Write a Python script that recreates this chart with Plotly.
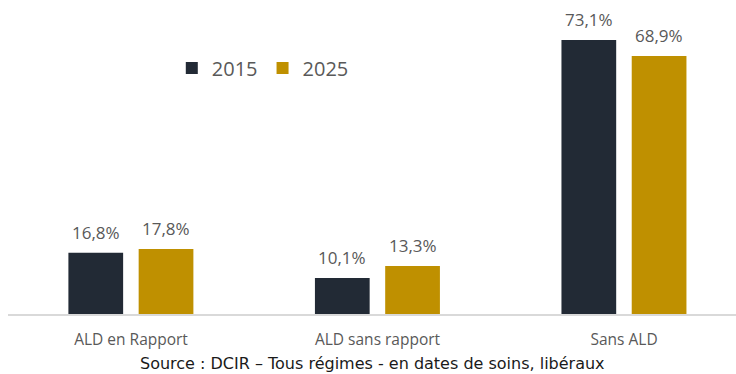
import plotly.graph_objects as go

categories = ["ALD en Rapport", "ALD sans rapport", "Sans ALD"]
values_2015 = [16.8, 10.1, 73.1]
values_2025 = [17.8, 13.3, 68.9]
series_names = ["2015", "2025"]
source_note = "Source : DCIR – Tous régimes - en dates de soins, libéraux"

colors = ["#222a35", "#bf9000"]
font_family = "Open Sans, Segoe UI, sans-serif"
bar_width = 0.222
offsets = [-0.254, 0.031]


def fmt(v):
    return f"{v:.1f}".replace(".", ",") + "%"


fig = go.Figure()
value_labels = []
for name, vals, col, off in zip(series_names, [values_2015, values_2025], colors, offsets):
    xs = list(range(len(categories)))
    fig.add_trace(go.Bar(
        x=xs, y=vals, name=name,
        marker=dict(color=col, line=dict(width=0)),
        width=bar_width, offset=off,
    ))
    # value labels above each bar
    for xi, v in zip(xs, vals):
        value_labels.append(dict(
            x=xi + off + bar_width / 2, y=v, xref="x", yref="y",
            text=fmt(v), showarrow=False, xanchor="center", yanchor="bottom",
            yshift=7,
            font=dict(family=font_family, size=17, color="#595959"),
        ))

fig.update_layout(
    width=736, height=374,
    margin=dict(l=8, r=0, t=20, b=60),
    paper_bgcolor="white", plot_bgcolor="white",
    barmode="overlay",
    showlegend=True,
    legend=dict(
        orientation="h", x=0.225, y=0.837, xanchor="left", yanchor="middle",
        font=dict(family=font_family, size=20, color="#595959"),
        itemsizing="constant", traceorder="normal",
    ),
    xaxis=dict(
        range=[-0.499, 2.454],
        tickmode="array", tickvals=list(range(len(categories))), ticktext=categories,
        tickfont=dict(family=font_family, size=15.5, color="#595959"),
        ticklabelstandoff=11,
        showline=True, linecolor="#d9d9d9", linewidth=1.5,
        showgrid=False, zeroline=False, ticks="",
    ),
    yaxis=dict(range=[0.6, 78.4], visible=False),
    annotations=value_labels + [dict(
        text=source_note, x=0.5, xref="paper", y=-0.128, yref="paper",
        xanchor="center", yanchor="top", showarrow=False,
        font=dict(family="DejaVu Sans", size=16, color="#1a1a1a"),
    )],
)

fig.write_html("out.html")
